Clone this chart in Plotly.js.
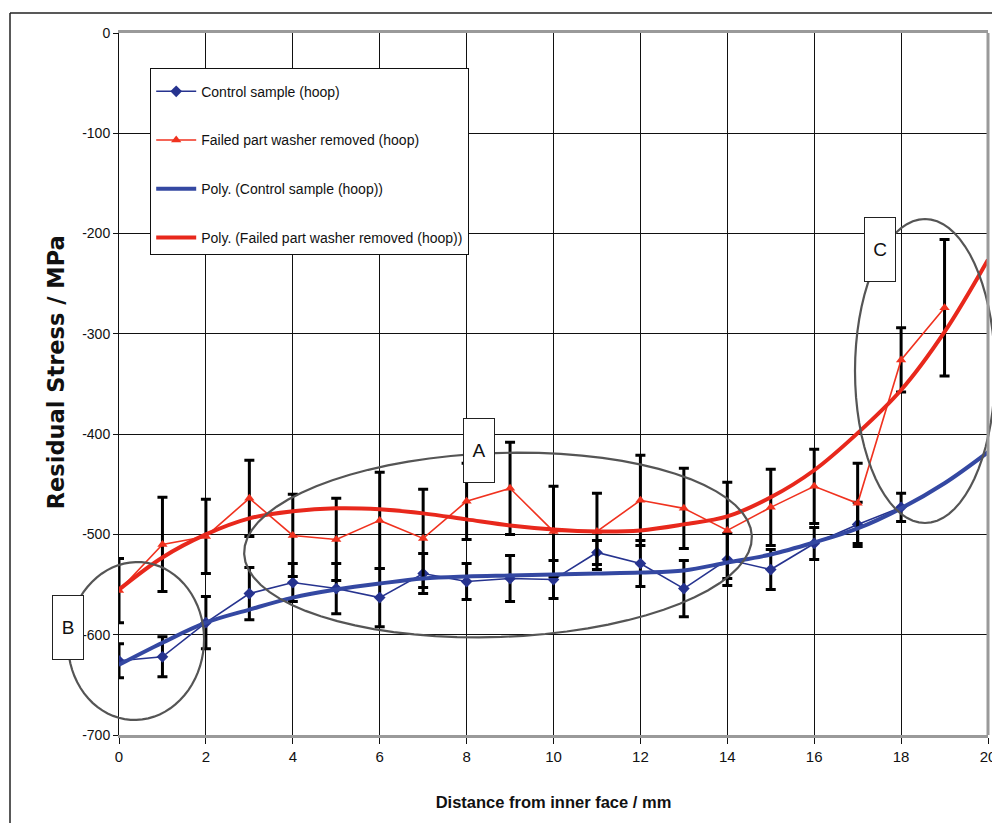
<!DOCTYPE html>
<html>
<head>
<meta charset="utf-8">
<script src="https://cdn.plot.ly/plotly-3.0.1.min.js"></script>
<style>
html,body{margin:0;padding:0;background:#fff;}
#chart{width:992px;height:823px;}
</style>
</head>
<body>
<div id="chart"></div>
<script>
// ---- data ----
const controlX = [0,1,2,3,4,5,6,7,8,9,10,11,12,13,14,15,16,17,18];
const controlY = [-626,-622,-588,-559,-548,-554,-563,-539,-547,-544,-545,-518,-529,-554,-525,-535,-509,-490,-473];
const controlErr = [17,20,26,26,19,25,29,20,18,23,19,12,23,28,26,20,16,22,14];

const failedX = [0,1,2,3,4,5,6,7,8,9,10,11,12,13,14,15,16,17,18,19];
const failedY = [-556,-510,-502,-464,-501,-505,-486,-504,-467,-454,-497,-497,-466,-474,-496,-473,-452,-469,-326,-274];
const failedErr = [32,47,37,38,41,41,48,49,38,46,45,38,45,40,48,38,37,40,32,68];

const polyX = [0,1,2,3,4,5,6,7,8,9,10,11,12,13,14,15,16,17,18,19,20];
const polyControlY = [-630,-608,-588,-575,-563,-555,-549,-544,-542,-541,-540,-539,-538,-536,-528,-520,-508,-494,-474,-449,-418];
const polyFailedY = [-555,-523,-500,-484,-477,-474,-475,-479,-485,-491,-495,-497,-496,-490,-482,-463,-436,-399,-356,-298,-226];

const seriesNames = ['Control sample (hoop)','Failed part washer removed (hoop)','Poly. (Control sample (hoop))','Poly. (Failed part washer removed (hoop))'];
const xTickVals = [0,2,4,6,8,10,12,14,16,18,20];
const yTickVals = [0,-100,-200,-300,-400,-500,-600,-700];
const labelTexts = ['A','B','C'];

// ---- styling ----
const SANS = '"Liberation Sans", Arial, sans-serif';
const BLUE = '#26338f', RED = '#f0321f', PBLUE = '#3448a2', PRED = '#e8281c';

const traces = [
  {x: controlX, y: controlY, name: seriesNames[0], mode: 'lines+markers', legendgroup: 'g1',
   line: {color: BLUE, width: 1.6}, marker: {symbol: 'diamond', size: 9, color: BLUE},
   error_y: {type: 'data', array: controlErr, visible: true, color: '#000', thickness: 3, width: 5}},
  {x: failedX, y: failedY, name: seriesNames[1], mode: 'lines+markers', legendgroup: 'g2',
   line: {color: RED, width: 1.6}, marker: {symbol: 'triangle-up', size: 9, color: RED},
   error_y: {type: 'data', array: failedErr, visible: true, color: '#000', thickness: 3, width: 5}},
  {x: polyX, y: polyControlY, name: seriesNames[2], mode: 'lines', legendgroup: 'g3',
   line: {color: PBLUE, width: 4, shape: 'spline'}},
  {x: polyX, y: polyFailedY, name: seriesNames[3], mode: 'lines', legendgroup: 'g4',
   line: {color: PRED, width: 4, shape: 'spline'}}
];

// plot-area geometry in pixels (for the drawn ellipses)
const L = 119, R = 988, T = 33, B = 735;
const W = R - L, H = B - T;
function ellipsePath(cx, cy, rx, ry, angDeg) {
  const a = angDeg * Math.PI / 180;
  let d = '';
  for (let i = 0; i <= 72; i++) {
    const t = i / 72 * 2 * Math.PI;
    const px = cx + rx * Math.cos(t) * Math.cos(a) - ry * Math.sin(t) * Math.sin(a);
    const py = cy + rx * Math.cos(t) * Math.sin(a) + ry * Math.sin(t) * Math.cos(a);
    const X = (px - L) / W, Y = (B - py) / H;
    d += (i === 0 ? 'M' : 'L') + X.toFixed(5) + ',' + Y.toFixed(5) + ' ';
  }
  return d + 'Z';
}
const ellStyle = {color: '#555', width: 2.2};
const shapes = [
  {type: 'path', xref: 'paper', yref: 'paper', path: ellipsePath(498, 545, 254, 92, -2), line: ellStyle, layer: 'above'},
  {type: 'path', xref: 'paper', yref: 'paper', path: ellipsePath(136, 641, 68, 79, 4), line: ellStyle, layer: 'above'},
  {type: 'path', xref: 'paper', yref: 'paper', path: ellipsePath(925, 371, 70, 152, 0), line: ellStyle, layer: 'above'},
  // right border of plot area
  {type: 'line', xref: 'paper', yref: 'paper', x0: 1, x1: 1, y0: 0, y1: 1, line: {color: '#9a9a9a', width: 3}},
  // outer frame (left & top)
  {type: 'line', xref: 'paper', yref: 'paper', x0: (10 - L) / W, x1: (10 - L) / W, y0: (B - 823) / H, y1: (B - 13) / H, line: {color: '#222', width: 1.5}},
  {type: 'line', xref: 'paper', yref: 'paper', x0: (10 - L) / W, x1: (995 - L) / W, y0: (B - 13) / H, y1: (B - 13) / H, line: {color: '#222', width: 1.5}}
];

function labelBox(text, cx, cy) {
  return {text: text, xref: 'paper', yref: 'paper', x: (cx - L) / W, y: (B - cy) / H,
    xanchor: 'center', yanchor: 'middle', showarrow: false, width: 30, height: 63,
    bgcolor: '#fff', bordercolor: '#222', borderwidth: 1, borderpad: 0, valign: 'middle',
    font: {family: SANS, size: 19, color: '#111'}};
}
const annotations = [
  labelBox(labelTexts[0], 479, 450),
  labelBox(labelTexts[1], 68, 627),
  labelBox(labelTexts[2], 880, 249)
];

const layout = {
  width: 992, height: 823,
  margin: {l: L, r: 992 - R, t: T, b: 823 - B},
  paper_bgcolor: '#fff', plot_bgcolor: '#fff',
  showlegend: true,
  legend: {x: (150 - L) / W, y: (B - 68) / H, xanchor: 'left', yanchor: 'top',
    bgcolor: '#fff', bordercolor: '#111', borderwidth: 1.2, tracegroupgap: 27.5, itemwidth: 40,
    title: {text: '&nbsp;', font: {family: SANS, size: 5}},
    font: {family: SANS, size: 14, color: '#111'}},
  xaxis: {range: [0, 20], tickvals: xTickVals, ticktext: xTickVals.map(String),
    showgrid: true, gridcolor: '#111', gridwidth: 1,
    ticks: 'outside', ticklen: 6, tickcolor: '#111', tickwidth: 1, ticklabeloverflow: 'allow',
    showline: true, linecolor: '#9a9a9a', linewidth: 3, mirror: true, zeroline: false,
    tickfont: {family: SANS, size: 15, color: '#111'},
    title: {text: 'Distance from inner face / mm', standoff: 33,
      font: {family: SANS, size: 16.5, color: '#111', weight: 'bold'}}},
  yaxis: {range: [-700, 0], tickvals: yTickVals, ticktext: yTickVals.map(String),
    showgrid: true, gridcolor: '#111', gridwidth: 1,
    ticks: 'outside', ticklen: 5, tickcolor: '#111', tickwidth: 1,
    showline: true, linecolor: '#111', linewidth: 1, zeroline: false,
    tickfont: {family: SANS, size: 14, color: '#111'},
    title: {text: '&nbsp;&nbsp;&nbsp;Residual Stress / MPa', standoff: 11,
      font: {family: '"DejaVu Sans", sans-serif', size: 22.5, color: '#111', weight: 'bold'}}},
  shapes: shapes,
  annotations: annotations
};

Plotly.newPlot('chart', traces, layout, {displayModeBar: false, staticPlot: true});
</script>
</body>
</html>
